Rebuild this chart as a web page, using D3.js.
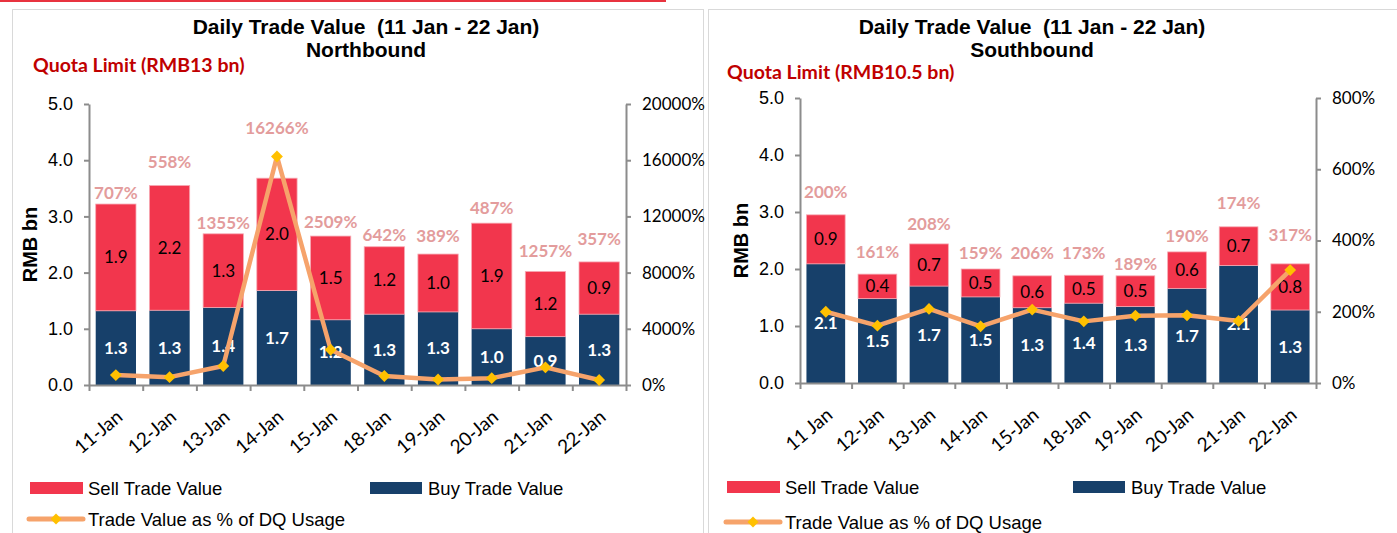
<!DOCTYPE html>
<html>
<head>
<meta charset="utf-8">
<script src="https://cdn.jsdelivr.net/npm/d3@7"></script>
<style>
  body { margin: 0; background: #fff; }
  svg { display: block; }
</style>
</head>
<body>
<svg id="chart" width="1397" height="533"></svg>
<script>
// ---- data ----
var northDates = ["11-Jan", "12-Jan", "13-Jan", "14-Jan", "15-Jan", "18-Jan", "19-Jan", "20-Jan", "21-Jan", "22-Jan"];
var southDates = ["11 Jan", "12-Jan", "13-Jan", "14-Jan", "15-Jan", "18-Jan", "19-Jan", "20-Jan", "21-Jan", "22-Jan"];

var northBuy  = [1.32, 1.33, 1.38, 1.68, 1.16, 1.26, 1.30, 1.00, 0.86, 1.26];
var northSell = [1.90, 2.22, 1.31, 2.00, 1.49, 1.20, 1.03, 1.88, 1.16, 0.93];
var northPct  = [707, 558, 1355, 16266, 2509, 642, 389, 487, 1257, 357];

var southBuy  = [2.09, 1.48, 1.70, 1.51, 1.32, 1.40, 1.34, 1.66, 2.06, 1.28];
var southSell = [0.86, 0.43, 0.74, 0.49, 0.56, 0.49, 0.54, 0.64, 0.68, 0.81];
var southPct  = [200, 161, 208, 159, 206, 173, 189, 190, 174, 317];

var valueTicks = [0, 1, 2, 3, 4, 5];
var northPctTicks = [0, 4000, 8000, 12000, 16000, 20000];
var southPctTicks = [0, 200, 400, 600, 800];

// how far (px) each % label sits above its bar, as placed in the original
var northLift = [11, 23, 11, 50, 14, 12, 18, 15, 20, 23];
var southLift = [23, 22, 20, 16, 23, 22, 12, 16, 24, 29];

var sellColor = "#F2364D",
    buyColor = "#17406A",
    lineColor = "#F6A36B",
    markColor = "#FFC000",
    pctColor = "#E39C9C",
    axisColor = "#8C8C8C";

var arial = "'Liberation Sans', Arial, sans-serif";
var calibri = "Lato, 'Open Sans', sans-serif";

var svg = d3.select("#chart");

// red strip along the very top + light panel frames
svg.append("rect").attr("x", 0).attr("y", 0).attr("width", 666).attr("height", 2).attr("fill", "#E8333F");
svg.append("rect").attr("x", 12.5).attr("y", 9.5).attr("width", 691).attr("height", 540)
    .attr("fill", "none").attr("stroke", "#D9D9D9");
svg.append("rect").attr("x", 708.5).attr("y", 9.5).attr("width", 700).attr("height", 540)
    .attr("fill", "none").attr("stroke", "#D9D9D9");

function drawPanel(p) {
    var g = svg.append("g");
    var n = p.cats.length;

    var x = d3.scaleBand()
        .domain(d3.range(n))
        .range([p.left, p.right])
        .paddingInner(0.25)
        .paddingOuter(0.125);
    var xEdge = d3.scaleLinear().domain([0, n]).range([p.left, p.right]);
    var y = d3.scaleLinear().domain([0, 5]).range([p.bottom, p.top]);
    var y2 = d3.scaleLinear().domain([0, d3.max(p.pctTicks)]).range([p.bottom, p.top]);
    var cx = function (i) { return x(i) + x.bandwidth() / 2; };

    // titles
    g.append("text").attr("x", p.titleX).attr("y", 34).attr("text-anchor", "middle")
        .attr("xml:space", "preserve")
        .style("font", "bold 21px " + arial).text("Daily Trade Value  (11 Jan - 22 Jan)");
    g.append("text").attr("x", p.titleX).attr("y", 57).attr("text-anchor", "middle")
        .style("font", "bold 21px " + arial).text(p.subtitle);
    g.append("text").attr("x", p.quotaX).attr("y", p.quotaY)
        .style("font", "bold 19.5px " + calibri).attr("fill", "#C00000").text(p.quota);

    // bars
    var rows = p.buy.map(function (b, i) { return { i: i, buy: b, sell: p.sell[i], pct: p.pct[i] }; });

    g.selectAll(".buy").data(rows).enter().append("rect")
        .attr("x", function (d) { return x(d.i); })
        .attr("width", x.bandwidth())
        .attr("y", function (d) { return y(d.buy); })
        .attr("height", function (d) { return y(0) - y(d.buy); })
        .attr("fill", buyColor);

    g.selectAll(".sell").data(rows).enter().append("rect")
        .attr("x", function (d) { return x(d.i); })
        .attr("width", x.bandwidth())
        .attr("y", function (d) { return y(d.buy + d.sell); })
        .attr("height", function (d) { return y(d.buy) - y(d.buy + d.sell); })
        .attr("fill", sellColor)
        .attr("stroke", "#F7A9B3").attr("stroke-width", 0.8);

    // axes
    var yAxis = d3.axisLeft(y).tickValues(valueTicks).tickFormat(d3.format(".1f")).tickSize(5).tickSizeOuter(0);
    var ga = g.append("g").attr("transform", "translate(" + p.left + ",0)").call(yAxis);
    ga.selectAll("text").style("font", "18px " + arial).attr("fill", "#000").attr("x", -16);

    var y2Axis = d3.axisRight(y2).tickValues(p.pctTicks).tickFormat(function (d) { return d + "%"; })
        .tickSize(5).tickSizeOuter(0);
    var gb = g.append("g").attr("transform", "translate(" + p.right + ",0)").call(y2Axis);
    gb.selectAll("text").style("font", "17px " + calibri).attr("fill", "#000").attr("x", 16);

    var xAxis = d3.axisBottom(xEdge).tickValues(d3.range(n + 1)).tickFormat("").tickSize(6).tickSizeOuter(0);
    var gc = g.append("g").attr("transform", "translate(0," + p.bottom + ")").call(xAxis);

    [ga, gb, gc].forEach(function (a) {
        a.selectAll("path,line").attr("stroke", axisColor).attr("stroke-width", 2);
    });

    g.selectAll(".cat").data(p.cats).enter().append("text")
        .attr("text-anchor", "end")
        .attr("transform", function (d, i) {
            return "translate(" + (cx(i) + 8) + "," + (p.bottom + 34) + ") rotate(-40)";
        })
        .style("font", "19px " + calibri)
        .text(function (d) { return d; });

    g.append("text")
        .attr("transform", "translate(" + p.unitX + "," + ((p.top + p.bottom) / 2) + ") rotate(-90)")
        .attr("text-anchor", "middle")
        .style("font", "bold 20px " + arial)
        .text("RMB bn");

    // segment labels
    g.selectAll(".buyLbl").data(rows).enter().append("text")
        .attr("x", function (d) { return cx(d.i); })
        .attr("y", function (d) { return (y(0) + y(d.buy)) / 2 + 6; })
        .attr("text-anchor", "middle")
        .style("font", "bold 17px " + calibri).attr("fill", "#fff")
        .text(function (d) { return d.buy.toFixed(1); });

    g.selectAll(".sellLbl").data(rows).enter().append("text")
        .attr("x", function (d) { return cx(d.i); })
        .attr("y", function (d) { return (y(d.buy) + y(d.buy + d.sell)) / 2 + 6; })
        .attr("text-anchor", "middle")
        .style("font", "17px " + calibri).attr("fill", "#000")
        .text(function (d) { return d.sell.toFixed(1); });

    // usage line
    var line = d3.line().x(function (d) { return cx(d.i); }).y(function (d) { return y2(d.pct); });
    g.append("path").datum(rows).attr("d", line)
        .attr("fill", "none").attr("stroke", lineColor).attr("stroke-width", 4.5)
        .attr("stroke-linejoin", "round");
    g.selectAll(".mark").data(rows).enter().append("path")
        .attr("d", d3.symbol(d3.symbolSquare, 70))
        .attr("transform", function (d) { return "translate(" + cx(d.i) + "," + y2(d.pct) + ") rotate(45)"; })
        .attr("fill", markColor);

    // % labels above the bars
    g.selectAll(".pctLbl").data(rows).enter().append("text")
        .attr("x", function (d) { return cx(d.i); })
        .attr("y", function (d) { return y(d.buy + d.sell) - p.lift[d.i] + 6; })
        .attr("text-anchor", "middle")
        .style("font", "bold 17px " + calibri).attr("fill", pctColor)
        .text(function (d) { return d.pct + "%"; });

    // legend
    var lg = g.append("g").style("font", "18.5px " + arial);
    lg.append("rect").attr("x", p.legX).attr("y", p.legY - 6).attr("width", 53).attr("height", 12).attr("fill", sellColor);
    lg.append("text").attr("x", p.legX + 58).attr("y", p.legY + 7).text("Sell Trade Value");
    lg.append("rect").attr("x", p.legX2).attr("y", p.legY - 6).attr("width", 52).attr("height", 12).attr("fill", buyColor);
    lg.append("text").attr("x", p.legX2 + 58).attr("y", p.legY + 7).text("Buy Trade Value");
    lg.append("line").attr("x1", p.legX - 1).attr("x2", p.legX + 53).attr("y1", p.legY2).attr("y2", p.legY2)
        .attr("stroke", lineColor).attr("stroke-width", 5).attr("stroke-linecap", "round");
    lg.append("path").attr("d", d3.symbol(d3.symbolSquare, 60))
        .attr("transform", "translate(" + (p.legX + 26) + "," + p.legY2 + ") rotate(45)").attr("fill", markColor);
    lg.append("text").attr("x", p.legX + 58).attr("y", p.legY2 + 7).text("Trade Value as % of DQ Usage");
}

drawPanel({
    cats: northDates, buy: northBuy, sell: northSell, pct: northPct, pctTicks: northPctTicks, lift: northLift,
    left: 89, right: 626, top: 104, bottom: 385,
    titleX: 366, subtitle: "Northbound", quota: "Quota Limit (RMB13 bn)", quotaX: 33, quotaY: 72,
    unitX: 37, legX: 30, legX2: 370, legY: 488, legY2: 519
});

drawPanel({
    cats: southDates, buy: southBuy, sell: southSell, pct: southPct, pctTicks: southPctTicks, lift: southLift,
    left: 800, right: 1316, top: 98, bottom: 383,
    titleX: 1032, subtitle: "Southbound", quota: "Quota Limit (RMB10.5 bn)", quotaX: 727, quotaY: 79,
    unitX: 748, legX: 727, legX2: 1073, legY: 487, legY2: 522
});
</script>
</body>
</html>
